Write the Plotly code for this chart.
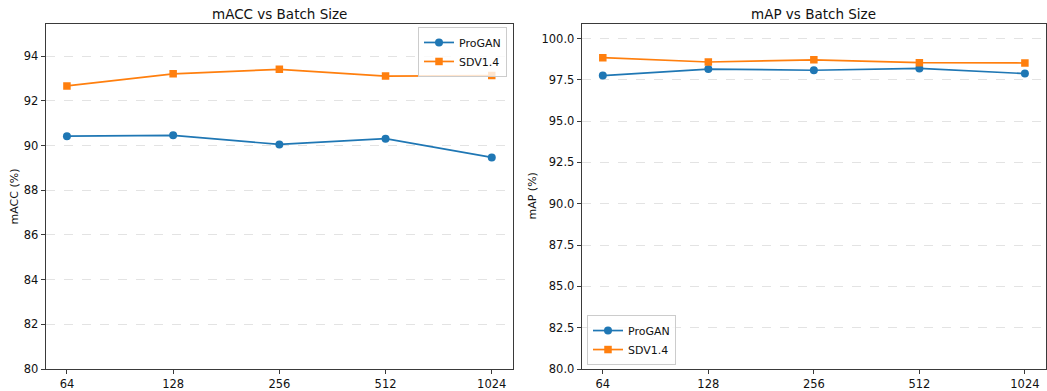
import plotly.graph_objects as go

batch_sizes = ["64", "128", "256", "512", "1024"]
macc_progan = [90.42, 90.46, 90.05, 90.31, 89.47]
macc_sdv14 = [92.67, 93.21, 93.41, 93.11, 93.13]
map_progan = [97.76, 98.15, 98.08, 98.19, 97.88]
map_sdv14 = [98.84, 98.58, 98.71, 98.54, 98.52]

BLUE = "#1f77b4"
ORANGE = "#ff7f0e"
FONT = "DejaVu Sans"

W, H = 1047, 391
ML, MR, MT, MB = 0, 0, 24, 18
PH = H - MT - MB

fig = go.Figure()

def add_series(x, y, name, color, symbol, xa, ya, legend):
    fig.add_trace(go.Scatter(
        x=x, y=y, name=name, mode="lines+markers",
        line=dict(color=color, width=1.7),
        marker=dict(color=color, symbol=symbol, size=8 if symbol == "circle" else 7.5),
        xaxis=xa, yaxis=ya, legend=legend,
    ))

add_series(batch_sizes, macc_progan, "ProGAN", BLUE, "circle", "x", "y", "legend")
add_series(batch_sizes, macc_sdv14, "SDV1.4", ORANGE, "square", "x", "y", "legend")
add_series(batch_sizes, map_progan, "ProGAN", BLUE, "circle", "x2", "y2", "legend2")
add_series(batch_sizes, map_sdv14, "SDV1.4", ORANGE, "square", "x2", "y2", "legend2")

axis_common = dict(
    showline=True, mirror=True, linecolor="#3a3a3a", linewidth=1,
    ticks="outside", ticklen=4, tickcolor="#3a3a3a", tickwidth=1,
    tickfont=dict(family=FONT, size=11.5, color="#111"),
    zeroline=False,
)

x_common = dict(axis_common, type="category", range=[-0.2, 4.2], showgrid=False)
y_common = dict(axis_common, showgrid=True, gridcolor="#e3e3e3", griddash="dash", gridwidth=1)

legend_common = dict(
    bordercolor="#cccccc", borderwidth=1, bgcolor="rgba(255,255,255,0.8)",
    font=dict(family=FONT, size=11, color="#111"),
    tracegroupgap=0, itemwidth=30,
)

fig.update_layout(
    width=W, height=H,
    margin=dict(l=ML, r=MR, t=MT, b=MB),
    paper_bgcolor="white", plot_bgcolor="white",
    font=dict(family=FONT, color="#111"),
    xaxis=dict(x_common, domain=[45.7 / W, 513 / W], anchor="y"),
    yaxis=dict(y_common, domain=[0, 1], range=[80, 95.44], dtick=2, tick0=80, anchor="x"),
    xaxis2=dict(x_common, domain=[581.7 / W, 1046 / W], anchor="y2"),
    yaxis2=dict(y_common, domain=[0, 1], range=[80, 100.88], dtick=2.5, tick0=80,
                tickformat=".1f", anchor="x2"),
    legend=dict(legend_common, x=507 / W, xanchor="right",
                y=(H - MB - 27) / PH, yanchor="top"),
    legend2=dict(legend_common, x=587 / W, xanchor="left",
                 y=(H - MB - 369) / PH, yanchor="bottom"),
    showlegend=True,
)

title_y = (H - MB - 14) / PH
fig.add_annotation(text="mACC vs Batch Size", x=(45.7 + 513) / 2 / W, y=title_y,
                   xref="paper", yref="paper", showarrow=False, xanchor="center",
                   font=dict(family=FONT, size=13.5, color="#111"), yanchor="middle")
fig.add_annotation(text="mAP vs Batch Size", x=(581.7 + 1046) / 2 / W, y=title_y,
                   xref="paper", yref="paper", showarrow=False, xanchor="center",
                   font=dict(family=FONT, size=13.5, color="#111"), yanchor="middle")

label_y = (H - MB - 198.5) / PH
fig.add_annotation(text="mACC (%)", x=14 / W, y=label_y, xref="paper", yref="paper",
                   showarrow=False, textangle=-90, xanchor="center", yanchor="middle",
                   font=dict(family=FONT, size=11, color="#111"))
fig.add_annotation(text="mAP (%)", x=532 / W, y=label_y, xref="paper", yref="paper",
                   showarrow=False, textangle=-90, xanchor="center", yanchor="middle",
                   font=dict(family=FONT, size=11, color="#111"))

fig.write_html("out.html")
